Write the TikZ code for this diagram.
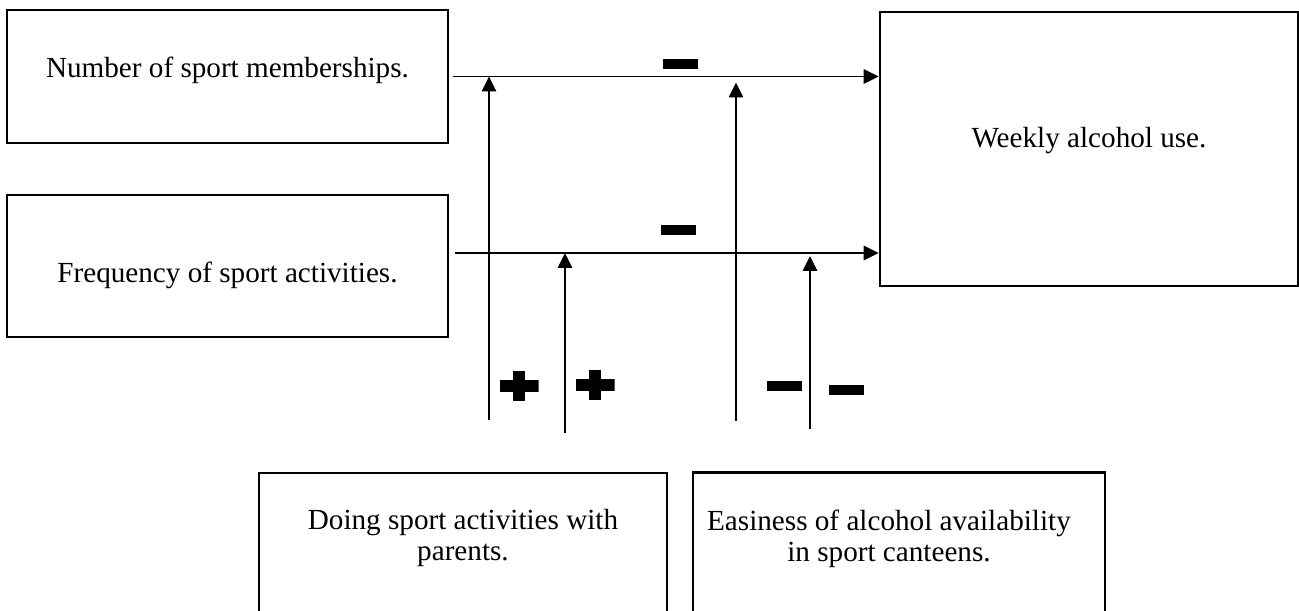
\documentclass[tikz,border=0pt]{standalone}
\usepackage{fontspec}
\setmainfont{Liberation Serif}
\usetikzlibrary{arrows.meta, positioning, calc}
\tikzset{
	box/.style={rectangle, draw, line width=1.5pt, inner sep=0pt},
	line/.style={draw, line width=0.7pt, -{Triangle[length=3mm, width=2.9mm]}},
	minussign/.style={rectangle, fill, inner sep=0pt, minimum width=0.7cm, minimum height=0.19cm},
	plussign/.style={rectangle, inner sep=0pt, minimum width=0.78cm, minimum height=0.62cm,
		path picture={
			\fill ([yshift=-0.12cm]path picture bounding box.west) rectangle ([yshift=0.12cm]path picture bounding box.east);
			\fill ([xshift=-0.12cm]path picture bounding box.south) rectangle ([xshift=0.12cm]path picture bounding box.north);
		}}
}

\begin{document}
\begin{tikzpicture}[
	x=0.02cm, y=-0.02cm,
	font=\fontsize{16.6}{17.6}\selectfont,
	boxtext/.style={align=center, anchor=north, inner sep=0pt}
	]
	\useasboundingbox (0,0) rectangle (1299,611);
	\clip (0,0) rectangle (1299,611);
	
	% Predictor boxes (left) and outcome box (right)
	\node[box, minimum width=8.82cm, minimum height=2.66cm, text height=0.4cm, text depth=0.34cm] (memberships) at (227.5,76.5) {Number of sport memberships.};
	\node[box, minimum width=8.82cm, minimum height=2.84cm, text height=0.68cm, text depth=0cm] (frequency) at (227.5,266) {Frequency of sport activities.};
	\node[box, minimum width=8.36cm, minimum height=5.48cm, text height=0.36cm, text depth=0.4cm] (weekly) at (1089,149) {Weekly alcohol use.};
	
	% Moderator boxes (bottom), text sits near the top
	\node[box, minimum width=8.16cm, minimum height=3.74cm] (parents) at (463,566.5) {};
	\node[boxtext] (parents_text) at (463,509) {Doing sport activities with\\parents.};
	\node[box, minimum width=8.24cm, minimum height=3.74cm] (canteens) at (899,566) {};
	\node[boxtext] (canteens_text) at (889,510) {Easiness of alcohol availability\\in sport canteens.};
	
	% Main paths
	\coordinate (memberships_out) at ([xshift=0.08cm]memberships.east);
	\coordinate (frequency_out) at (455,253);
	\draw[line] (memberships_out) -- (memberships_out -| weekly.west);
	\draw[line] (frequency_out) -- (frequency_out -| weekly.west);
	\node[minussign] (sign_memberships) at (680,64) {};
	\node[minussign] (sign_frequency) at (678,230) {};
	
	% Moderating taps from below
	\coordinate (tap_1) at (489,420);
	\coordinate (tap_2) at (565,433);
	\coordinate (tap_3) at (736,421);
	\coordinate (tap_4) at (810,429);
	\draw[line] (tap_1) -- (tap_1 |- memberships_out);
	\draw[line] (tap_2) -- (tap_2 |- frequency_out);
	\draw[line] (tap_3) -- ($(tap_3 |- memberships_out)+(0,6)$);
	\draw[line] (tap_4) -- ($(tap_4 |- frequency_out)+(0,3)$);
	
	% signs of the moderation
	\node[plussign] (sign_tap_1) at (519,386) {};
	\node[plussign] (sign_tap_2) at (595,385) {};
	\node[minussign] (sign_tap_3) at (784,386) {};
	\node[minussign] (sign_tap_4) at (846,390) {};
	
\end{tikzpicture}
\end{document}
